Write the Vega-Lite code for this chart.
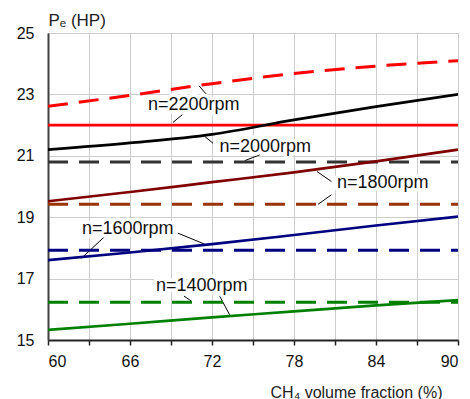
{
  "$schema": "https://vega.github.io/schema/vega-lite/v6.json",
  "width": 410,
  "height": 307,
  "autosize": {"type": "none"},
  "padding": {"left": 48, "top": 33, "right": 12, "bottom": 59},
  "background": "white",
  "config": {
    "font": "Liberation Sans",
    "view": {"stroke": "#bbbbbb", "strokeWidth": 1}
  },
  "datasets": {
    "curves": [
      {"series": "2200v", "kind": "var", "x": 60, "y": 22.61},
      {"series": "2200v", "kind": "var", "x": 66, "y": 22.97},
      {"series": "2200v", "kind": "var", "x": 72, "y": 23.35},
      {"series": "2200v", "kind": "var", "x": 78, "y": 23.68},
      {"series": "2200v", "kind": "var", "x": 84, "y": 23.92},
      {"series": "2200v", "kind": "var", "x": 90, "y": 24.1},
      {"series": "2200c", "kind": "const", "x": 60, "y": 22.0},
      {"series": "2200c", "kind": "const", "x": 90, "y": 22.0},
      {"series": "2000v", "kind": "var", "x": 60, "y": 21.2},
      {"series": "2000v", "kind": "var", "x": 66, "y": 21.42},
      {"series": "2000v", "kind": "var", "x": 72, "y": 21.7},
      {"series": "2000v", "kind": "var", "x": 78, "y": 22.17},
      {"series": "2000v", "kind": "var", "x": 84, "y": 22.6},
      {"series": "2000v", "kind": "var", "x": 90, "y": 23.0},
      {"series": "2000c", "kind": "const", "x": 60, "y": 20.8},
      {"series": "2000c", "kind": "const", "x": 90, "y": 20.8},
      {"series": "1800v", "kind": "var", "x": 60, "y": 19.52},
      {"series": "1800v", "kind": "var", "x": 66, "y": 19.82},
      {"series": "1800v", "kind": "var", "x": 72, "y": 20.14},
      {"series": "1800v", "kind": "var", "x": 78, "y": 20.46},
      {"series": "1800v", "kind": "var", "x": 84, "y": 20.82},
      {"series": "1800v", "kind": "var", "x": 90, "y": 21.2},
      {"series": "1800c", "kind": "const", "x": 60, "y": 19.42},
      {"series": "1800c", "kind": "const", "x": 90, "y": 19.42},
      {"series": "1600v", "kind": "var", "x": 60, "y": 17.6},
      {"series": "1600v", "kind": "var", "x": 66, "y": 17.85},
      {"series": "1600v", "kind": "var", "x": 72, "y": 18.12},
      {"series": "1600v", "kind": "var", "x": 78, "y": 18.42},
      {"series": "1600v", "kind": "var", "x": 84, "y": 18.73},
      {"series": "1600v", "kind": "var", "x": 90, "y": 19.02},
      {"series": "1600c", "kind": "const", "x": 60, "y": 17.92},
      {"series": "1600c", "kind": "const", "x": 90, "y": 17.92},
      {"series": "1400v", "kind": "var", "x": 60, "y": 15.33},
      {"series": "1400v", "kind": "var", "x": 66, "y": 15.53},
      {"series": "1400v", "kind": "var", "x": 72, "y": 15.74},
      {"series": "1400v", "kind": "var", "x": 78, "y": 15.93},
      {"series": "1400v", "kind": "var", "x": 84, "y": 16.13},
      {"series": "1400v", "kind": "var", "x": 90, "y": 16.3},
      {"series": "1400c", "kind": "const", "x": 60, "y": 16.23},
      {"series": "1400c", "kind": "const", "x": 90, "y": 16.23}
    ],
    "labels": [
      {"label": "n=2200rpm", "x": 70.66, "y": 22.66},
      {"label": "n=2000rpm", "x": 75.89, "y": 21.3},
      {"label": "n=1800rpm", "x": 84.49, "y": 20.13},
      {"label": "n=1600rpm", "x": 65.83, "y": 18.61},
      {"label": "n=1400rpm", "x": 71.25, "y": 16.76}
    ],
    "leaders": [
      {"x": 69.83, "y": 22.34, "x2": 69.15, "y2": 22.09},
      {"x": 71.05, "y": 23.28, "x2": 71.83, "y2": 22.88},
      {"x": 71.47, "y": 21.63, "x2": 72.07, "y2": 21.41},
      {"x": 75.49, "y": 21.03, "x2": 74.39, "y2": 20.84},
      {"x": 79.68, "y": 20.49, "x2": 80.74, "y2": 20.16},
      {"x": 80.74, "y": 19.73, "x2": 79.76, "y2": 19.42},
      {"x": 64.15, "y": 18.37, "x2": 62.44, "y2": 17.66},
      {"x": 69.51, "y": 18.48, "x2": 71.47, "y2": 18.12},
      {"x": 69.95, "y": 16.43, "x2": 70.49, "y2": 16.27},
      {"x": 72.56, "y": 16.43, "x2": 73.29, "y2": 15.82}
    ]
  },
  "layer": [
    {
      "data": {"name": "leaders"},
      "mark": {"type": "rule", "color": "black", "strokeWidth": 1},
      "encoding": {
        "x": {"field": "x", "type": "quantitative", "scale": {"domain": [60, 90], "nice": false},
          "axis": {
            "values": [60, 63, 66, 69, 72, 75, 78, 81, 84, 87, 90],
            "labelExpr": "datum.value % 6 == 0 ? datum.label : ''",
            "grid": true, "gridColor": "#cccccc", "gridWidth": 1,
            "domainColor": "#222222", "domainWidth": 2,
            "tickColor": "#222222", "tickSize": 5, "tickWidth": 1.5,
            "labelFontSize": 16, "labelColor": "#111111", "labelPadding": 8,
            "labelFont": "Liberation Sans",
            "title": "CH₄ volume fraction (%)",
            "titleFontSize": 16, "titleFontWeight": "normal", "titleColor": "#222222",
            "titleFont": "Liberation Sans",
            "titleX": 308, "titleY": 52, "titleAlign": "center", "titleBaseline": "middle"
          }},
        "y": {"field": "y", "type": "quantitative", "scale": {"domain": [15, 25], "nice": false},
          "axis": {
            "values": [15, 17, 19, 21, 23, 25],
            "grid": true, "gridColor": "#cccccc", "gridWidth": 1,
            "domainColor": "#404040", "domainWidth": 2,
            "ticks": false, "labelPadding": 14,
            "labelFontSize": 16, "labelColor": "#111111",
            "labelFont": "Liberation Sans",
            "title": "Pₑ (HP)",
            "titleFontSize": 17, "titleFontWeight": "normal", "titleColor": "#222222",
            "titleFont": "Liberation Sans",
            "titleAngle": 0, "titleX": 0, "titleY": -4, "titleAlign": "left", "titleBaseline": "bottom"
          }},
        "x2": {"field": "x2"},
        "y2": {"field": "y2"}
      }
    },
    {
      "data": {"name": "curves"},
      "transform": [{"filter": "datum.kind == 'const' && datum.series != '2200c'"}],
      "mark": {"type": "line", "strokeWidth": 3, "strokeDash": [20, 11], "clip": true},
      "encoding": {
        "x": {"field": "x", "type": "quantitative"},
        "y": {"field": "y", "type": "quantitative"},
        "detail": {"field": "series"},
        "color": {"field": "series", "type": "nominal", "legend": null,
          "scale": {
            "domain": ["2200v", "2200c", "2000v", "2000c", "1800v", "1800c", "1600v", "1600c", "1400v", "1400c"],
            "range": ["#ff0000", "#ff0000", "#000000", "#333333", "#800000", "#993300", "#000080", "#000080", "#008000", "#008000"]
          }}
      }
    },
    {
      "data": {"name": "curves"},
      "transform": [{"filter": "(datum.kind == 'var' && datum.series != '2200v') || datum.series == '2200c'"}],
      "mark": {"type": "line", "strokeWidth": 2.7, "interpolate": "monotone", "clip": true},
      "encoding": {
        "x": {"field": "x", "type": "quantitative"},
        "y": {"field": "y", "type": "quantitative"},
        "detail": {"field": "series"},
        "color": {"field": "series", "type": "nominal", "legend": null}
      }
    },
    {
      "data": {"name": "curves"},
      "transform": [{"filter": "datum.series == '2200v'"}],
      "mark": {"type": "line", "strokeWidth": 3, "interpolate": "monotone", "strokeDash": [20, 11], "clip": true},
      "encoding": {
        "x": {"field": "x", "type": "quantitative"},
        "y": {"field": "y", "type": "quantitative"},
        "color": {"field": "series", "type": "nominal", "legend": null}
      }
    },
    {
      "data": {"name": "labels"},
      "mark": {"type": "text", "fontSize": 18, "font": "Liberation Sans", "stroke": "white", "strokeWidth": 7, "strokeJoin": "round", "fill": "white", "align": "center", "baseline": "middle"},
      "encoding": {
        "x": {"field": "x", "type": "quantitative"},
        "y": {"field": "y", "type": "quantitative"},
        "text": {"field": "label"}
      }
    },
    {
      "data": {"name": "labels"},
      "mark": {"type": "text", "fontSize": 18, "font": "Liberation Sans", "fill": "#111111", "align": "center", "baseline": "middle"},
      "encoding": {
        "x": {"field": "x", "type": "quantitative"},
        "y": {"field": "y", "type": "quantitative"},
        "text": {"field": "label"}
      }
    }
  ]
}
